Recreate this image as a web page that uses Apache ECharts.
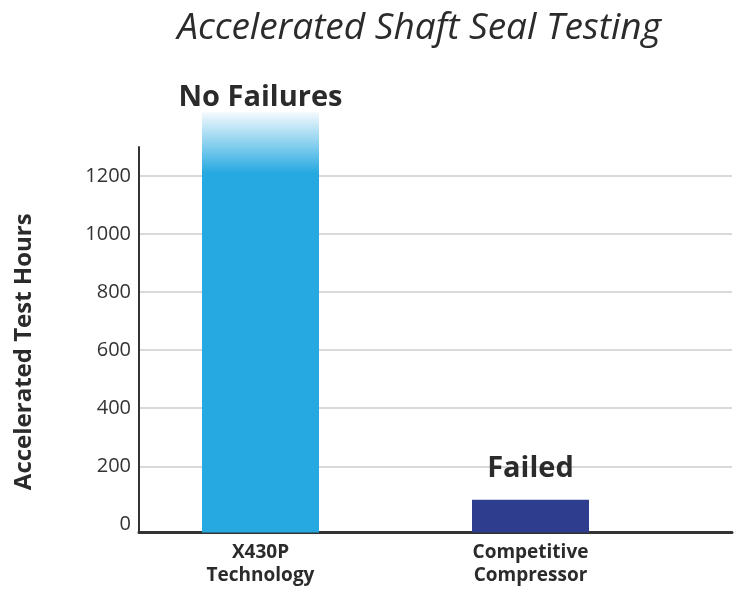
<!DOCTYPE html>
<html>
<head>
<meta charset="utf-8">
<script src="https://cdn.jsdelivr.net/npm/echarts@6/dist/echarts.min.js"></script>
<style>
html,body{margin:0;padding:0;background:#fff;}
#chart{width:735px;height:590px;}
</style>
</head>
<body>
<div id="chart"></div>
<script>
const categories = ['X430P\nTechnology', 'Competitive\nCompressor'];
const testHours = [1420, 85];
const barLabels = ['No Failures', 'Failed'];
const yTickInterval = 200;

const FONT = 'Open Sans';
const TEXT = '#2b2b2b';
const Y_MIN = -28, Y_MAX = 1300;

const barColors = [
  new echarts.graphic.LinearGradient(0, 0, 0, 1, [
    {offset: 0, color: '#f4fafe'},
    {offset: 0.145, color: '#26a9e0'},
    {offset: 1, color: '#26a9e0'}
  ]),
  '#2f3d8f'
];
const labelDistances = [0, 16];

const chart = echarts.init(document.getElementById('chart'), null, {renderer: 'canvas'});
chart.setOption({
  animation: false,
  backgroundColor: '#fff',
  title: {
    text: 'Accelerated Shaft Seal Testing',
    left: 414,
    top: 5,
    textAlign: 'center',
    textStyle: {fontFamily: FONT, fontSize: 37, fontStyle: 'italic', fontWeight: 'normal', color: TEXT}
  },
  grid: [
    // 0: tick labels + gridlines (value 0 at its bottom edge)
    {left: 139, right: 3, top: 147, bottom: 65.7, containLabel: false},
    // 1: bars
    {left: 125.5, right: 69.5, top: 147, bottom: 57.5, containLabel: false},
    // 2: axis lines
    {left: 139, right: 3, top: 147, bottom: 57.5, containLabel: false}
  ],
  xAxis: [
    {gridIndex: 0, type: 'value', min: 0, max: 1, show: false},
    {gridIndex: 1, type: 'category', data: categories,
     axisLine: {show: false}, axisTick: {show: false}, splitLine: {show: false},
     axisLabel: {margin: 9, fontFamily: FONT, fontSize: 19, fontWeight: 'bold', lineHeight: 23, color: TEXT}},
    {gridIndex: 2, type: 'value', min: 0, max: 1,
     axisLine: {show: true, onZero: false, lineStyle: {color: '#333', width: 3}},
     axisTick: {show: false}, axisLabel: {show: false}, splitLine: {show: false}}
  ],
  yAxis: [
    {gridIndex: 0, type: 'value', min: 0, max: Y_MAX, interval: yTickInterval,
     axisLine: {show: false}, axisTick: {show: false},
     axisLabel: {margin: 8, fontFamily: FONT, fontSize: 20, color: '#333', showMaxLabel: false,
                 formatter: v => String(v)},
     splitLine: {show: true, showMinLine: false, showMaxLine: false, lineStyle: {color: '#d9d9d9', width: 2}}},
    {gridIndex: 1, type: 'value', min: Y_MIN, max: Y_MAX, startValue: Y_MIN, show: false},
    {gridIndex: 2, type: 'value', min: Y_MIN, max: Y_MAX,
     name: 'Accelerated Test Hours', nameLocation: 'middle', nameGap: 103,
     nameTextStyle: {fontFamily: FONT, fontSize: 24, fontWeight: 'bold', color: TEXT, padding: [0, 24, 0, 0]},
     axisLine: {show: true, onZero: false, lineStyle: {color: '#333', width: 2}},
     axisTick: {show: false}, axisLabel: {show: false}, splitLine: {show: false}}
  ],
  series: [{
    type: 'bar',
    xAxisIndex: 1,
    yAxisIndex: 1,
    barWidth: 117,
    clip: false,
    data: testHours.map((v, i) => ({
      value: v,
      itemStyle: {color: barColors[i]},
      label: {show: true, position: 'top', distance: labelDistances[i], formatter: barLabels[i],
              fontFamily: FONT, fontSize: 29, fontWeight: 'bold', color: TEXT}
    }))
  }]
});
</script>
</body>
</html>
